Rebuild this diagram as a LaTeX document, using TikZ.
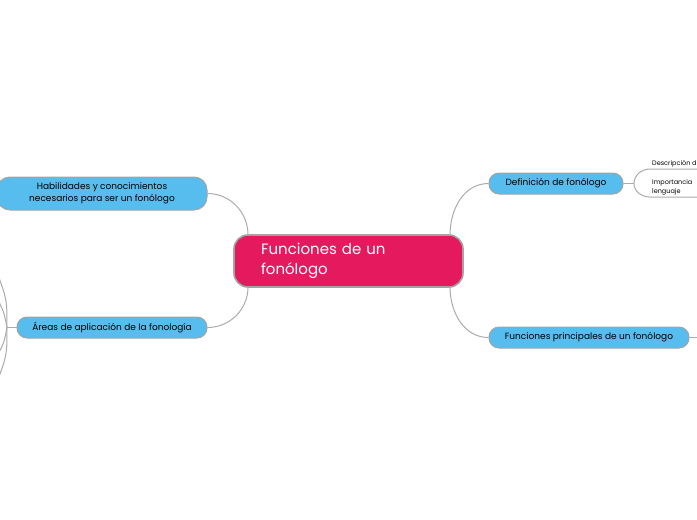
\documentclass[tikz,border=0pt]{standalone}
\usepackage{fontspec}
\setmainfont{Poppins}
\usetikzlibrary{positioning}

\definecolor{rootred}{HTML}{E5195E}
\definecolor{topicblue}{HTML}{56BDEE}
\definecolor{rimgray}{HTML}{A3A3A3}
\definecolor{linkgray}{HTML}{ABABAB}

\tikzset{
	root/.style={draw=rimgray, line width=1.6pt, fill=rootred, text=white, rounded corners=14pt,
		minimum width=229pt, minimum height=52pt, inner xsep=27pt, text width=175pt, align=left,
		font=\fontsize{15}{20}\selectfont},
	topic/.style={draw=rimgray, line width=1pt, fill=topicblue, rounded corners=10pt,
		minimum height=21pt, inner sep=0pt, align=center, font=\fontsize{9}{12}\selectfont},
	leaf/.style={anchor=south west, inner xsep=2pt, inner ysep=2pt, align=left,
		font=\fontsize{6.5}{9}\selectfont},
	link/.style={draw=linkgray, line width=1pt}
}

\begin{document}
\begin{tikzpicture}[x=1pt, y=-1pt]
		\useasboundingbox (0,0) rectangle (697,520);

		% central idea
		\node [root] (root) at (348.5, 261) {Funciones de un\\fonólogo};

		% main topics
		\node [topic, minimum width=210pt, minimum height=33pt, rounded corners=13pt] (skills) at (102, 193.5)
			{Habilidades y conocimientos\\necesarios para ser un fonólogo};
		\node [topic, minimum width=190pt] (areas) at (112, 327.5) {Áreas de aplicación de la fonología};
		\node [topic, minimum width=134pt] (defn) at (556, 183.5) {Definición de fonólogo};
		\node [topic, minimum width=200pt] (tasks) at (589, 337.5) {Funciones principales de un fonólogo};

		% anchor points on the central idea
		\coordinate (rootnw) at (248, 235);
		\coordinate (rootsw) at (248, 287);
		\coordinate (rootne) at (450, 235);
		\coordinate (rootse) at (450, 287);

		% links from the central idea
		\draw [link] (skills.east) to [out=0, in=90] (rootnw);
		\draw [link] (areas.east) to [out=0, in=-90] (rootsw);
		\draw [link] (defn.west) to [out=180, in=90] (rootne);
		\draw [link] (tasks.west) to [out=180, in=-90] (rootse);

		% subtopics of the definition
		\coordinate (defnfork) at (634, 183.5);
		\node [leaf] (descr) at (650, 169) {Descripción d};
		\node [leaf] (impor) at (650, 197) {Importancia\\lenguaje};
		\coordinate (descrend) at (700, 169);
		\coordinate (imporend) at (700, 197);
		\draw [link] (defn.east) -- (defnfork);
		\draw [link] (defnfork) to [out=90, in=180] (descr.south west) -- (descrend);
		\draw [link] (defnfork) to [out=-90, in=180] (impor.south west) -- (imporend);

		% subtopics of the main functions (off the page)
		\coordinate (tasksend) at (700, 337.5);
		\draw [link] (tasks.east) -- (tasksend);

		% subtopics of the areas (off the page)
		\coordinate (areasfork) at (7, 327.5);
		\coordinate (areasa) at (-3, 272);
		\coordinate (areasb) at (-3, 298);
		\coordinate (areasc) at (-3, 356);
		\coordinate (areasd) at (-3, 382);
		\draw [link] (areas.west) -- (areasfork);
		\draw [link] (areasfork) .. controls (7, 300) .. (areasa);
		\draw [link] (areasfork) .. controls (4, 312) .. (areasb);
		\draw [link] (areasfork) .. controls (4, 343) .. (areasc);
		\draw [link] (areasfork) .. controls (7, 355) .. (areasd);
	\end{tikzpicture}
\end{document}
